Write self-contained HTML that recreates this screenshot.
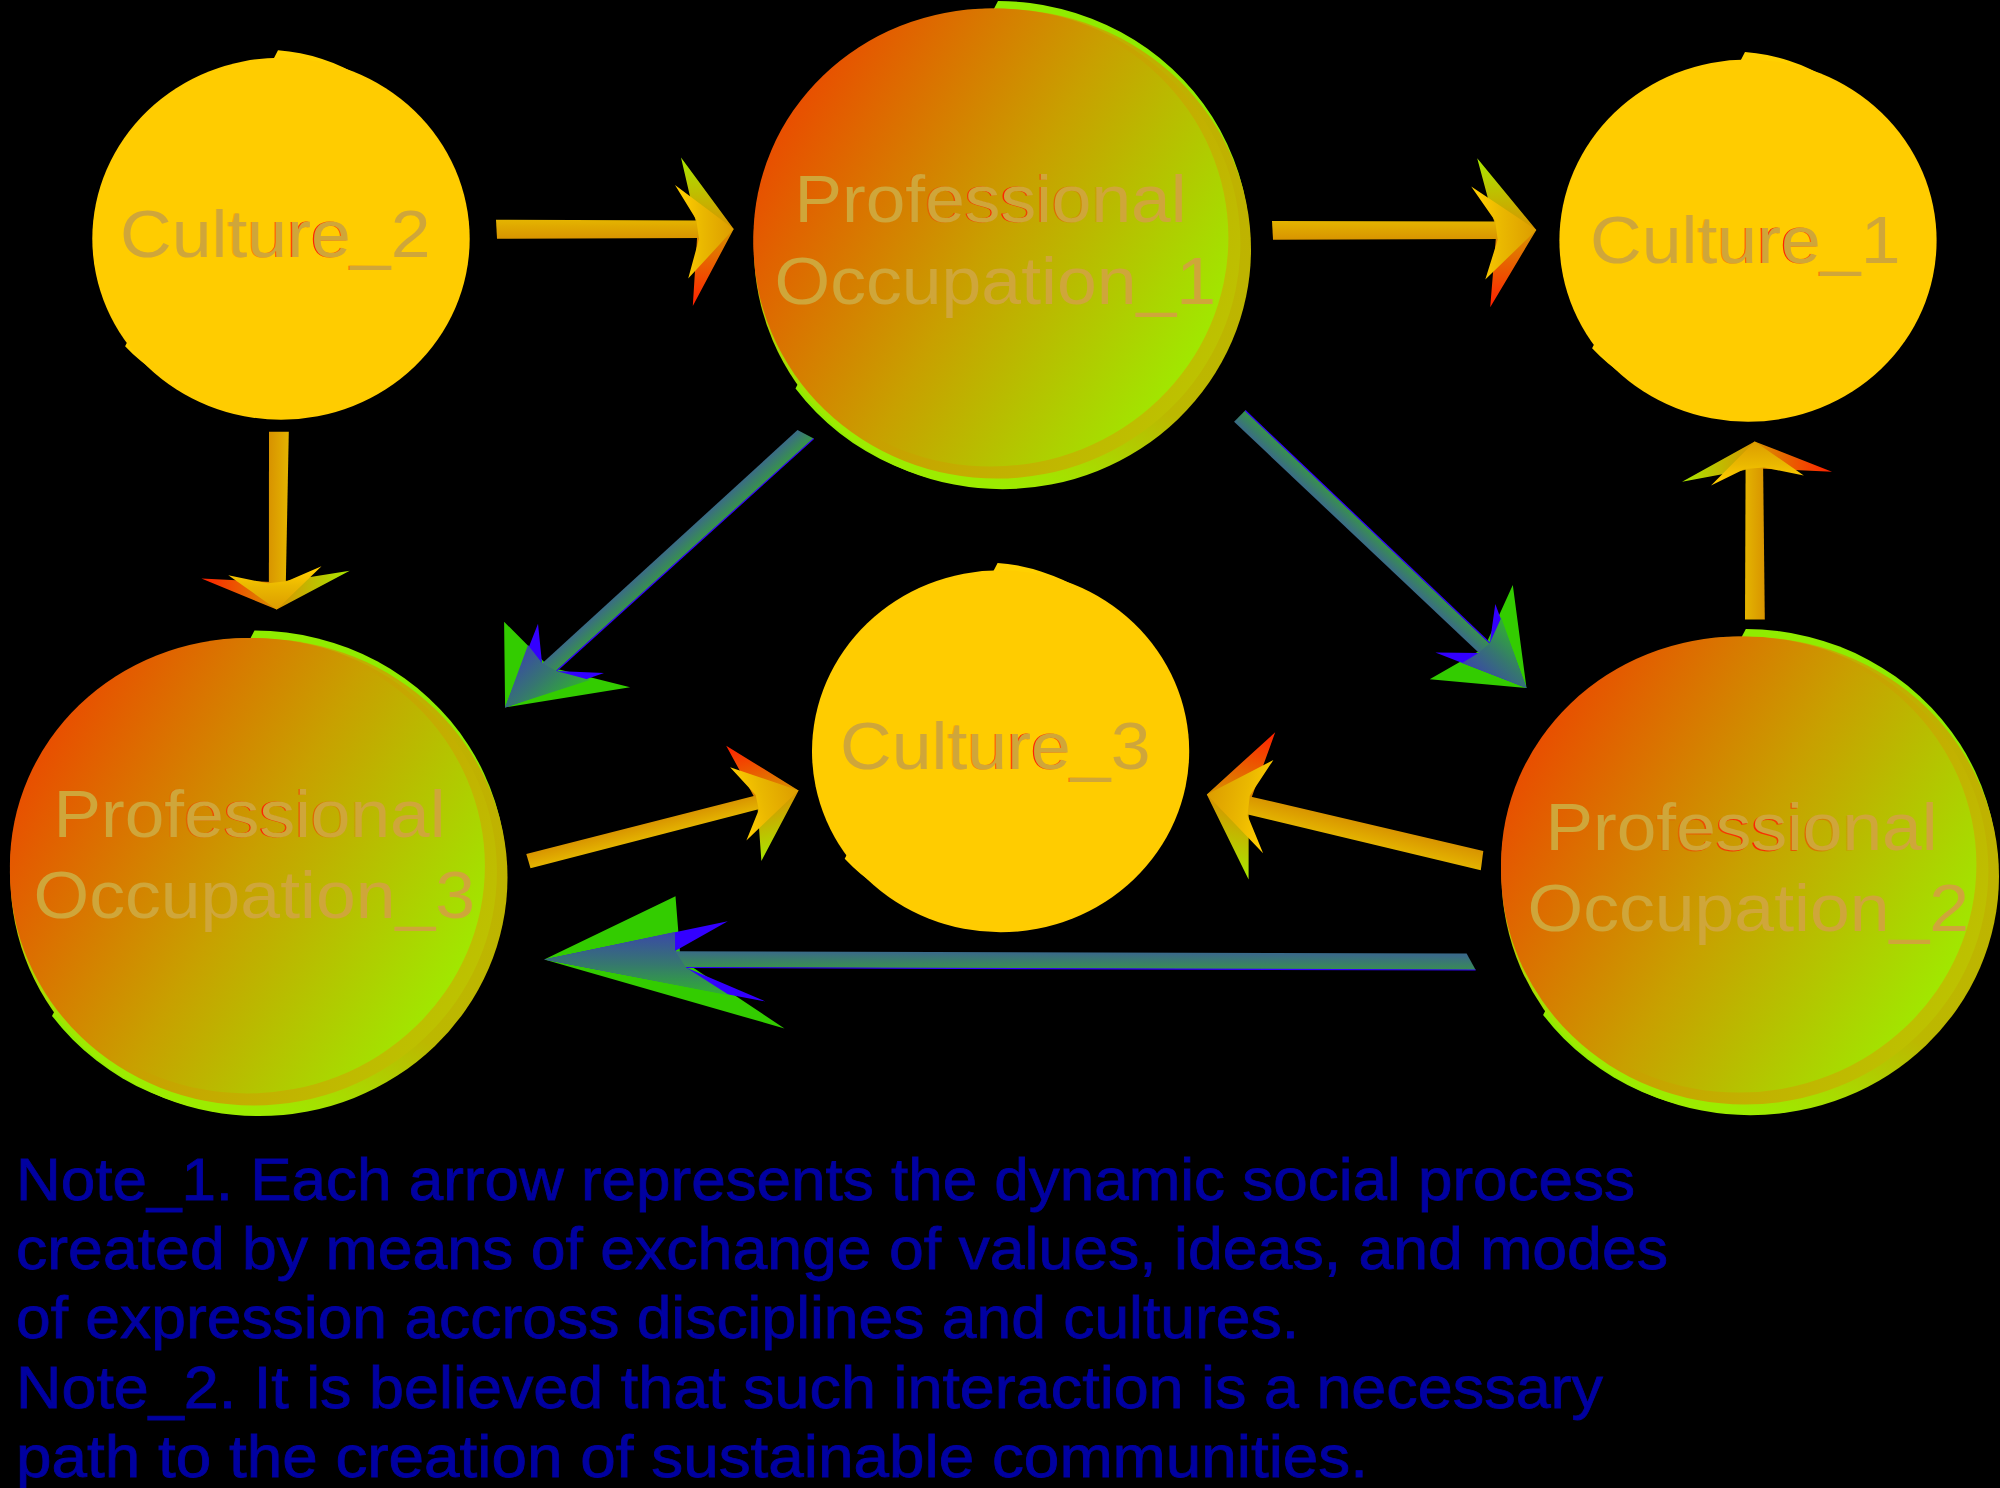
<!DOCTYPE html>
<html><head><meta charset="utf-8"><style>
html,body{margin:0;padding:0;background:#000;width:2000px;height:1488px;overflow:hidden}
svg{display:block}
.lbl{font-family:"Liberation Sans",sans-serif;fill:#cfa63a}
.note{font-family:"Liberation Sans",sans-serif;fill:#0000a0;stroke:#0000a0;stroke-width:0.8px}
</style></head><body>
<svg width="2000" height="1488" viewBox="0 0 2000 1488">
<defs>
<linearGradient id="rt1" gradientUnits="userSpaceOnUse" x1="120" y1="0" x2="430.5" y2="0"><stop offset="0.3" stop-color="#ff2000" stop-opacity="0"/><stop offset="0.62" stop-color="#ff2000" stop-opacity="1"/><stop offset="0.86" stop-color="#ff2000" stop-opacity="0"/></linearGradient>
<linearGradient id="rt2" gradientUnits="userSpaceOnUse" x1="1590" y1="0" x2="1900.5" y2="0"><stop offset="0.3" stop-color="#ff2000" stop-opacity="0"/><stop offset="0.62" stop-color="#ff2000" stop-opacity="1"/><stop offset="0.86" stop-color="#ff2000" stop-opacity="0"/></linearGradient>
<linearGradient id="rt3" gradientUnits="userSpaceOnUse" x1="840" y1="0" x2="1150.5" y2="0"><stop offset="0.3" stop-color="#ff2000" stop-opacity="0"/><stop offset="0.62" stop-color="#ff2000" stop-opacity="1"/><stop offset="0.86" stop-color="#ff2000" stop-opacity="0"/></linearGradient>
<linearGradient id="g1a" gradientUnits="userSpaceOnUse" x1="1079.0" y1="39.0" x2="926.0" y2="459.4"><stop offset="0" stop-color="#c0b000"/><stop offset="0.72" stop-color="#bcb800"/><stop offset="0.9" stop-color="#a8dc00"/><stop offset="1" stop-color="#9cec00"/></linearGradient>
<linearGradient id="g1c" gradientUnits="userSpaceOnUse" x1="787.3" y1="125.0" x2="1217.7" y2="373.4"><stop offset="0" stop-color="#e85000"/><stop offset="0.47" stop-color="#c8a000"/><stop offset="1" stop-color="#9cf000"/></linearGradient>
<linearGradient id="g1b" gradientUnits="userSpaceOnUse" x1="787.3" y1="125.0" x2="1217.7" y2="373.4"><stop offset="0" stop-color="#e85000"/><stop offset="0.47" stop-color="#c8a000"/><stop offset="1" stop-color="#bcc400"/></linearGradient>
<linearGradient id="rt4" gradientUnits="userSpaceOnUse" x1="794.5" y1="0" x2="1186.5" y2="0"><stop offset="0.25" stop-color="#ff2000" stop-opacity="0"/><stop offset="0.52" stop-color="#ff2000" stop-opacity="1"/><stop offset="0.8" stop-color="#ff2000" stop-opacity="0"/></linearGradient>
<linearGradient id="g3a" gradientUnits="userSpaceOnUse" x1="335.5" y1="667.2" x2="182.5" y2="1087.6"><stop offset="0" stop-color="#c0b000"/><stop offset="0.72" stop-color="#bcb800"/><stop offset="0.9" stop-color="#a8dc00"/><stop offset="1" stop-color="#9cec00"/></linearGradient>
<linearGradient id="g3c" gradientUnits="userSpaceOnUse" x1="43.8" y1="753.1" x2="474.2" y2="1001.6"><stop offset="0" stop-color="#e85000"/><stop offset="0.47" stop-color="#c8a000"/><stop offset="1" stop-color="#9cf000"/></linearGradient>
<linearGradient id="g3b" gradientUnits="userSpaceOnUse" x1="43.8" y1="753.1" x2="474.2" y2="1001.6"><stop offset="0" stop-color="#e85000"/><stop offset="0.47" stop-color="#c8a000"/><stop offset="1" stop-color="#bcc400"/></linearGradient>
<linearGradient id="rt5" gradientUnits="userSpaceOnUse" x1="53.5" y1="0" x2="445.5" y2="0"><stop offset="0.25" stop-color="#ff2000" stop-opacity="0"/><stop offset="0.52" stop-color="#ff2000" stop-opacity="1"/><stop offset="0.8" stop-color="#ff2000" stop-opacity="0"/></linearGradient>
<linearGradient id="g2a" gradientUnits="userSpaceOnUse" x1="1826.9" y1="665.9" x2="1673.7" y2="1086.5"><stop offset="0" stop-color="#c0b000"/><stop offset="0.72" stop-color="#bcb800"/><stop offset="0.9" stop-color="#a8dc00"/><stop offset="1" stop-color="#9cec00"/></linearGradient>
<linearGradient id="g2c" gradientUnits="userSpaceOnUse" x1="1534.9" y1="751.9" x2="1965.7" y2="1000.6"><stop offset="0" stop-color="#e85000"/><stop offset="0.47" stop-color="#c8a000"/><stop offset="1" stop-color="#9cf000"/></linearGradient>
<linearGradient id="g2b" gradientUnits="userSpaceOnUse" x1="1534.9" y1="751.9" x2="1965.7" y2="1000.6"><stop offset="0" stop-color="#e85000"/><stop offset="0.47" stop-color="#c8a000"/><stop offset="1" stop-color="#bcc400"/></linearGradient>
<linearGradient id="rt6" gradientUnits="userSpaceOnUse" x1="1545.5" y1="0" x2="1937.5" y2="0"><stop offset="0.25" stop-color="#ff2000" stop-opacity="0"/><stop offset="0.52" stop-color="#ff2000" stop-opacity="1"/><stop offset="0.8" stop-color="#ff2000" stop-opacity="0"/></linearGradient>
<linearGradient id="ar1" gradientUnits="userSpaceOnUse" x1="733.6" y1="157.4" x2="733.8" y2="306.0"><stop offset="0" stop-color="#a8e800"/><stop offset="0.5" stop-color="#d89000"/><stop offset="1" stop-color="#ff2000"/></linearGradient>
<linearGradient id="ar2" gradientUnits="userSpaceOnUse" x1="696.3" y1="219.8" x2="696.3" y2="238.7"><stop offset="0" stop-color="#e4b400"/><stop offset="1" stop-color="#d89400"/></linearGradient>
<linearGradient id="ar3" gradientUnits="userSpaceOnUse" x1="681.6" y1="229.1" x2="733.7" y2="229.0"><stop offset="0" stop-color="#ffcc00"/><stop offset="0.4" stop-color="#eab800"/><stop offset="1" stop-color="#dc9c00"/></linearGradient>
<linearGradient id="ar4" gradientUnits="userSpaceOnUse" x1="1536.2" y1="158.2" x2="1536.4" y2="307.1"><stop offset="0" stop-color="#a8e800"/><stop offset="0.5" stop-color="#d89000"/><stop offset="1" stop-color="#ff2000"/></linearGradient>
<linearGradient id="ar5" gradientUnits="userSpaceOnUse" x1="1495.2" y1="221.0" x2="1495.2" y2="239.7"><stop offset="0" stop-color="#e4b400"/><stop offset="1" stop-color="#d89400"/></linearGradient>
<linearGradient id="ar6" gradientUnits="userSpaceOnUse" x1="1478.2" y1="230.1" x2="1536.3" y2="230.0"><stop offset="0" stop-color="#ffcc00"/><stop offset="0.4" stop-color="#eab800"/><stop offset="1" stop-color="#dc9c00"/></linearGradient>
<linearGradient id="ar7" gradientUnits="userSpaceOnUse" x1="349.2" y1="610.4" x2="201.0" y2="608.6"><stop offset="0" stop-color="#a8e800"/><stop offset="0.5" stop-color="#d89000"/><stop offset="1" stop-color="#ff2000"/></linearGradient>
<linearGradient id="ar8" gradientUnits="userSpaceOnUse" x1="286.8" y1="581.3" x2="268.0" y2="581.0"><stop offset="0" stop-color="#e4b400"/><stop offset="1" stop-color="#d89400"/></linearGradient>
<linearGradient id="ar9" gradientUnits="userSpaceOnUse" x1="277.2" y1="570.8" x2="276.7" y2="609.5"><stop offset="0" stop-color="#ffcc00"/><stop offset="0.4" stop-color="#eab800"/><stop offset="1" stop-color="#dc9c00"/></linearGradient>
<linearGradient id="ar10" gradientUnits="userSpaceOnUse" x1="1682.1" y1="441.5" x2="1832.0" y2="441.3"><stop offset="0" stop-color="#a8e800"/><stop offset="0.5" stop-color="#d89000"/><stop offset="1" stop-color="#ff2000"/></linearGradient>
<linearGradient id="ar11" gradientUnits="userSpaceOnUse" x1="1744.6" y1="469.0" x2="1764.1" y2="468.9"><stop offset="0" stop-color="#e4b400"/><stop offset="1" stop-color="#d89400"/></linearGradient>
<linearGradient id="ar12" gradientUnits="userSpaceOnUse" x1="1754.7" y1="480.4" x2="1754.7" y2="441.4"><stop offset="0" stop-color="#ffcc00"/><stop offset="0.4" stop-color="#eab800"/><stop offset="1" stop-color="#dc9c00"/></linearGradient>
<linearGradient id="ar13" gradientUnits="userSpaceOnUse" x1="1189.7" y1="865.4" x2="1224.7" y2="720.1"><stop offset="0" stop-color="#a8e800"/><stop offset="0.5" stop-color="#d89000"/><stop offset="1" stop-color="#ff2000"/></linearGradient>
<linearGradient id="ar14" gradientUnits="userSpaceOnUse" x1="1247.5" y1="815.2" x2="1252.0" y2="796.3"><stop offset="0" stop-color="#e4b400"/><stop offset="1" stop-color="#d89400"/></linearGradient>
<linearGradient id="ar15" gradientUnits="userSpaceOnUse" x1="1267.7" y1="809.0" x2="1206.8" y2="794.4"><stop offset="0" stop-color="#ffcc00"/><stop offset="0.4" stop-color="#eab800"/><stop offset="1" stop-color="#dc9c00"/></linearGradient>
<linearGradient id="ar16" gradientUnits="userSpaceOnUse" x1="813.5" y1="847.4" x2="783.0" y2="730.9"><stop offset="0" stop-color="#a8e800"/><stop offset="0.5" stop-color="#d89000"/><stop offset="1" stop-color="#ff2000"/></linearGradient>
<linearGradient id="ar17" gradientUnits="userSpaceOnUse" x1="758.8" y1="809.8" x2="755.1" y2="795.3"><stop offset="0" stop-color="#e4b400"/><stop offset="1" stop-color="#d89400"/></linearGradient>
<linearGradient id="ar18" gradientUnits="userSpaceOnUse" x1="738.8" y1="806.0" x2="798.6" y2="790.4"><stop offset="0" stop-color="#ffcc00"/><stop offset="0.4" stop-color="#eab800"/><stop offset="1" stop-color="#dc9c00"/></linearGradient>
<linearGradient id="ar19" gradientUnits="userSpaceOnUse" x1="542.0" y1="663.0" x2="552.6" y2="674.6"><stop offset="0" stop-color="#3a6a88"/><stop offset="1" stop-color="#38924c"/></linearGradient>
<linearGradient id="ar20" gradientUnits="userSpaceOnUse" x1="484.4" y1="684.6" x2="529.9" y2="734.6"><stop offset="0" stop-color="#3a48a8"/><stop offset="0.5" stop-color="#367670"/><stop offset="1" stop-color="#30b030"/></linearGradient>
<linearGradient id="ar21" gradientUnits="userSpaceOnUse" x1="1478.5" y1="653.0" x2="1488.8" y2="642.1"><stop offset="0" stop-color="#3a6a88"/><stop offset="1" stop-color="#38924c"/></linearGradient>
<linearGradient id="ar22" gradientUnits="userSpaceOnUse" x1="1508.5" y1="707.0" x2="1549.6" y2="663.6"><stop offset="0" stop-color="#3a48a8"/><stop offset="0.5" stop-color="#367670"/><stop offset="1" stop-color="#30b030"/></linearGradient>
<linearGradient id="ar23" gradientUnits="userSpaceOnUse" x1="675.1" y1="951.0" x2="675.0" y2="967.5"><stop offset="0" stop-color="#3a6a88"/><stop offset="1" stop-color="#38924c"/></linearGradient>
<linearGradient id="ar24" gradientUnits="userSpaceOnUse" x1="544.3" y1="931.7" x2="544.1" y2="994.9"><stop offset="0" stop-color="#3a48a8"/><stop offset="0.5" stop-color="#367670"/><stop offset="1" stop-color="#30b030"/></linearGradient>
</defs>
<rect width="2000" height="1488" fill="#000"/>
<path d="M278.0,50.3 A185.35,177.65 0 1 1 125.1,346.2 Z" fill="#ffd000"/>
<ellipse cx="281" cy="238.7" rx="188.7" ry="181" fill="#ffcc00"/>
<text x="118.7" y="256.8" font-size="67.5" textLength="310.5" lengthAdjust="spacingAndGlyphs" font-family="Liberation Sans" fill="url(#rt1)">Culture_2</text>
<text x="120" y="256.5" font-size="67.5" textLength="310.5" lengthAdjust="spacingAndGlyphs" class="lbl">Culture_2</text>
<path d="M1745.0,52.0 A185.25,177.85 0 1 1 1592.1,348.3 Z" fill="#ffd000"/>
<ellipse cx="1748" cy="240.6" rx="188.6" ry="181.2" fill="#ffcc00"/>
<text x="1588.7" y="262.8" font-size="67.5" textLength="310.5" lengthAdjust="spacingAndGlyphs" font-family="Liberation Sans" fill="url(#rt2)">Culture_1</text>
<text x="1590" y="262.5" font-size="67.5" textLength="310.5" lengthAdjust="spacingAndGlyphs" class="lbl">Culture_1</text>
<path d="M997.6,562.9 A185.25,177.65 0 1 1 844.7,858.8 Z" fill="#ffd000"/>
<ellipse cx="1000.6" cy="751.3" rx="188.6" ry="181" fill="#ffcc00"/>
<text x="838.7" y="769.3" font-size="67.5" textLength="310.5" lengthAdjust="spacingAndGlyphs" font-family="Liberation Sans" fill="url(#rt3)">Culture_3</text>
<text x="840" y="769" font-size="67.5" textLength="310.5" lengthAdjust="spacingAndGlyphs" class="lbl">Culture_3</text>
<path d="M998.0,1.1 A251.6,243.1 0 1 1 795.5,388.5 Z" fill="#90ec00"/>
<ellipse cx="1002.5" cy="249.2" rx="248.5" ry="240" fill="url(#g1a)"/>
<ellipse cx="996.9" cy="243.6" rx="243.5" ry="235" fill="url(#g1b)"/>
<ellipse cx="990.9" cy="237.6" rx="237.5" ry="229" fill="url(#g1c)"/>
<text x="793.2" y="222.0" font-size="67.5" textLength="392" lengthAdjust="spacingAndGlyphs" font-family="Liberation Sans" fill="url(#rt4)">Professional</text>
<text x="794.5" y="221.7" font-size="67.5" textLength="392" lengthAdjust="spacingAndGlyphs" class="lbl">Professional</text>
<text x="774.6" y="304" font-size="67.5" textLength="441.5" lengthAdjust="spacingAndGlyphs" class="lbl">Occupation_1</text>
<path d="M254.5,630.6 A251.6,241.79999999999998 0 1 1 52.0,1015.9 Z" fill="#90ec00"/>
<ellipse cx="259" cy="877.4" rx="248.5" ry="238.7" fill="url(#g3a)"/>
<ellipse cx="253.4" cy="871.8" rx="243.5" ry="233.7" fill="url(#g3b)"/>
<ellipse cx="247.4" cy="865.8" rx="237.5" ry="227.7" fill="url(#g3c)"/>
<text x="52.2" y="837.3" font-size="67.5" textLength="392" lengthAdjust="spacingAndGlyphs" font-family="Liberation Sans" fill="url(#rt5)">Professional</text>
<text x="53.5" y="837" font-size="67.5" textLength="392" lengthAdjust="spacingAndGlyphs" class="lbl">Professional</text>
<text x="33.6" y="917.5" font-size="67.5" textLength="441.5" lengthAdjust="spacingAndGlyphs" class="lbl">Occupation_3</text>
<path d="M1745.8,629.1 A251.79999999999998,242.1 0 1 1 1543.1,1014.9 Z" fill="#90ec00"/>
<ellipse cx="1750.3" cy="876.2" rx="248.7" ry="239" fill="url(#g2a)"/>
<ellipse cx="1744.7" cy="870.6" rx="243.7" ry="234" fill="url(#g2b)"/>
<ellipse cx="1738.7" cy="864.6" rx="237.7" ry="228" fill="url(#g2c)"/>
<text x="1544.2" y="850.6999999999999" font-size="67.5" textLength="392" lengthAdjust="spacingAndGlyphs" font-family="Liberation Sans" fill="url(#rt6)">Professional</text>
<text x="1545.5" y="850.4" font-size="67.5" textLength="392" lengthAdjust="spacingAndGlyphs" class="lbl">Professional</text>
<text x="1527.6" y="930.8" font-size="67.5" textLength="441.5" lengthAdjust="spacingAndGlyphs" class="lbl">Occupation_2</text>
<polygon points="733.7,229.0 681.0,157.5 697.6,229.2 692.8,306.0" fill="url(#ar1)"/>
<polygon points="496.0,219.8 699.2,220.5 701.9,237.9 497.0,238.7" fill="url(#ar2)"/>
<polygon points="733.7,229.0 675.0,185.0 696.3,219.8 699.0,238.7 688.2,278.6" fill="url(#ar3)"/>
<polygon points="1536.3,230.0 1477.2,158.3 1496.5,230.3 1490.2,307.2" fill="url(#ar4)"/>
<polygon points="1272.0,221.0 1498.1,221.6 1500.6,239.0 1273.0,239.7" fill="url(#ar5)"/>
<polygon points="1536.3,230.0 1471.2,186.5 1495.2,221.0 1497.7,239.7 1485.3,279.5" fill="url(#ar6)"/>
<polygon points="276.7,609.5 349.7,570.8 277.4,582.3 201.4,578.6" fill="url(#ar7)"/>
<polygon points="288.8,431.8 285.8,584.1 268.9,586.1 269.0,431.8" fill="url(#ar8)"/>
<polygon points="276.7,609.5 321.5,566.3 286.8,581.3 268.0,583.3 228.3,575.3" fill="url(#ar9)"/>
<polygon points="1754.7,441.4 1682.1,481.8 1754.3,468.3 1832.0,471.7" fill="url(#ar10)"/>
<polygon points="1745.0,619.5 1745.6,466.2 1763.1,464.8 1764.8,619.5" fill="url(#ar11)"/>
<polygon points="1754.7,441.4 1711.0,485.4 1744.6,469.0 1764.1,467.6 1803.8,475.4" fill="url(#ar12)"/>
<polygon points="1206.8,794.4 1248.6,879.6 1248.7,805.5 1275.2,732.3" fill="url(#ar13)"/>
<polygon points="1480.8,870.2 1244.8,813.8 1246.8,795.7 1483.3,851.0" fill="url(#ar14)"/>
<polygon points="1206.8,794.4 1263.1,853.3 1247.5,815.2 1249.8,795.8 1273.4,760.0" fill="url(#ar15)"/>
<polygon points="798.6,790.4 761.4,861.0 757.2,802.5 726.2,745.8" fill="url(#ar16)"/>
<polygon points="530.5,868.3 761.5,808.5 758.7,794.8 526.3,854.0" fill="url(#ar17)"/>
<polygon points="798.6,790.4 746.4,840.4 758.8,809.8 755.7,795.1 730.1,767.2" fill="url(#ar18)"/>
<polygon points="505.1,707.4 504.1,621.7 549.2,667.0 630.1,687.2" fill="#33cc00"/>
<polygon points="505.1,707.4 538.0,623.7 542.0,663.0 556.5,671.0 604.0,673.0" fill="#3300ff"/>
<polygon points="797.5,430.1 540.1,665.3 554.1,672.7 813.7,438.6" fill="url(#ar19)"/>
<line x1="556.5" y1="671.0" x2="813.7" y2="438.6" stroke="#3300ff" stroke-width="1.2"/>
<polygon points="505.1,707.4 528.0,645.0 542.0,663.0 556.5,671.0 590.0,680.0" fill="url(#ar20)"/>
<polygon points="1526.5,688.0 1429.7,679.3 1484.2,648.0 1512.8,585.1" fill="#33cc00"/>
<polygon points="1526.5,688.0 1435.4,652.5 1478.5,653.0 1489.8,643.0 1495.3,604.0" fill="#3300ff"/>
<polygon points="1234.1,421.8 1480.9,654.8 1491.7,645.3 1245.2,410.5" fill="url(#ar21)"/>
<line x1="1489.8" y1="643.0" x2="1245.2" y2="410.5" stroke="#3300ff" stroke-width="1.2"/>
<polygon points="1526.5,688.0 1462.0,663.0 1478.5,653.0 1489.8,643.0 1501.3,617.8" fill="url(#ar22)"/>
<polygon points="544.2,959.4 675.5,896.2 680.5,959.2 784.5,1028.5" fill="#33cc00"/>
<polygon points="544.2,959.4 727.8,921.2 675.1,951.0 686.0,967.5 765.6,1001.5" fill="#3300ff"/>
<polygon points="1466.6,953.5 672.1,951.2 683.0,967.3 1475.7,970.0" fill="url(#ar23)"/>
<line x1="686.0" y1="967.5" x2="1475.7" y2="970.0" stroke="#3300ff" stroke-width="1.2"/>
<polygon points="544.2,959.4 675.0,932.0 675.1,951.0 686.0,967.5 729.8,995.4" fill="url(#ar24)"/>
<text x="16" y="1199.8" font-size="59" textLength="1619" lengthAdjust="spacingAndGlyphs" class="note">Note_1. Each arrow represents the dynamic social process</text>
<text x="16" y="1268.7" font-size="59" textLength="1652" lengthAdjust="spacingAndGlyphs" class="note">created by means of exchange of values, ideas, and modes</text>
<text x="16" y="1337.7" font-size="59" textLength="1283" lengthAdjust="spacingAndGlyphs" class="note">of expression accross disciplines and cultures.</text>
<text x="16" y="1407.8" font-size="59" textLength="1587" lengthAdjust="spacingAndGlyphs" class="note">Note_2. It is believed that such interaction is a necessary</text>
<text x="16" y="1476.8" font-size="59" textLength="1352" lengthAdjust="spacingAndGlyphs" class="note">path to the creation of sustainable communities.</text>
</svg></body></html>
